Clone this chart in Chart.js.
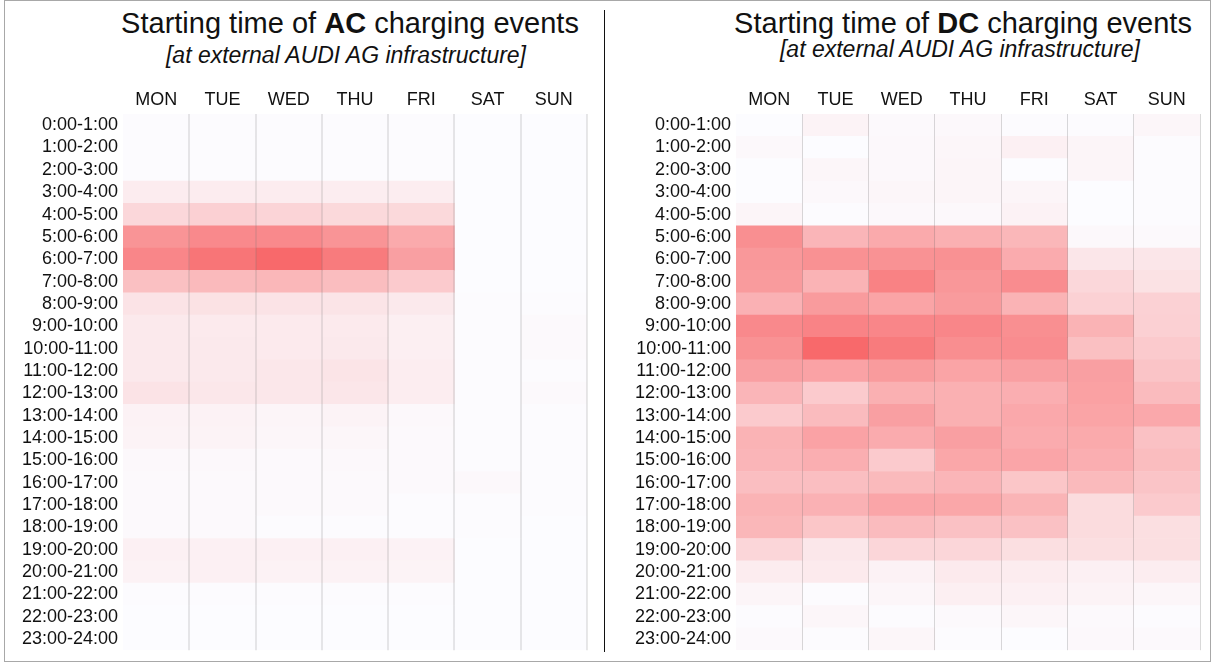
<!DOCTYPE html>
<html>
<head>
<meta charset="utf-8">
<script src="https://cdn.jsdelivr.net/npm/chart.js@4/dist/chart.umd.min.js"></script>
<style>
  html, body { margin: 0; padding: 0; background: #fff; }
  #page { position: relative; width: 1216px; height: 666px; overflow: hidden;
          font-family: 'Liberation Sans', Arial, sans-serif; color: #111; }
  .frame { position: absolute; left: 4px; top: 0; width: 1207px; height: 662px;
           border: 1px solid #a8a8a8; box-sizing: border-box; }
  .divider { position: absolute; left: 604px; top: 10px; width: 1px; height: 642px; background: #111; }
  .title { position: absolute; white-space: nowrap; line-height: 1; font-size: 29px; transform: translateX(-50%); }
  .sub { position: absolute; white-space: nowrap; line-height: 1; font-size: 23px; font-style: italic; transform: translateX(-50%); }
  canvas { position: absolute; top: 0; }
</style>
</head>
<body>
<div id="page">
  <div class="frame"></div>
  <div class="divider"></div>

  <div class="title" style="left:350px; top:9px">Starting time of <b>AC</b> charging events</div>
  <div class="sub" style="left:346px; top:44px">[at external AUDI AG infrastructure]</div>
  <div class="title" style="left:963px; top:9px">Starting time of <b>DC</b> charging events</div>
  <div class="sub" style="left:960px; top:38px">[at external AUDI AG infrastructure]</div>

  <canvas id="acCanvas" width="604" height="666" style="left:0"></canvas>
  <canvas id="dcCanvas" width="608" height="666" style="left:608px"></canvas>
</div>

<script>
// Heatmap of starting times — relative intensity per hour slot (0 = lowest, 100 = highest)
const DAYS  = ['MON', 'TUE', 'WED', 'THU', 'FRI', 'SAT', 'SUN'];
const HOURS = ['0:00-1:00', '1:00-2:00', '2:00-3:00', '3:00-4:00', '4:00-5:00', '5:00-6:00',
               '6:00-7:00', '7:00-8:00', '8:00-9:00', '9:00-10:00', '10:00-11:00', '11:00-12:00',
               '12:00-13:00', '13:00-14:00', '14:00-15:00', '15:00-16:00', '16:00-17:00', '17:00-18:00',
               '18:00-19:00', '19:00-20:00', '20:00-21:00', '21:00-22:00', '22:00-23:00', '23:00-24:00'];

// AC — one array per weekday, 24 hour slots each
const AC_MON = [1, 1, 1, 11, 25, 71, 80, 41, 17, 13, 13, 13, 17, 7, 6, 3, 2, 2, 2, 8, 7, 1, 0, 0];
const AC_TUE = [1, 1, 1, 11, 30, 78, 92, 45, 18, 12, 13, 13, 14, 7, 6, 3, 2, 2, 2, 8, 8, 1, 0, 0];
const AC_WED = [1, 1, 1, 11, 27, 78, 100, 47, 17, 12, 12, 14, 14, 5, 4, 2, 2, 2, 1, 8, 7, 1, 0, 0];
const AC_THU = [1, 1, 1, 10, 24, 71, 88, 43, 16, 12, 13, 16, 15, 6, 4, 3, 2, 2, 1, 8, 7, 1, 0, 0];
const AC_FRI = [1, 1, 1, 10, 24, 56, 63, 34, 13, 9, 9, 10, 10, 3, 2, 2, 2, 1, 1, 7, 6, 1, 0, 0];
const AC_SAT = [0, 0, 0, 0, 0, 0, 0, 0, 1, 1, 1, 1, 1, 1, 1, 1, 3, 1, 1, 0, 0, 0, 0, 0];
const AC_SUN = [0, 0, 0, 0, 0, 0, 0, 0, 1, 2, 2, 1, 2, 1, 1, 1, 1, 1, 0, 0, 0, 0, 0, 0];

// DC
const DC_MON = [0, 3, 0, 0, 5, 74, 68, 66, 51, 78, 72, 63, 48, 34, 50, 48, 42, 50, 47, 26, 11, 5, 1, 2];
const DC_TUE = [6, 0, 4, 3, 1, 48, 73, 50, 66, 82, 100, 61, 34, 44, 61, 53, 42, 51, 37, 14, 12, 1, 4, 1];
const DC_WED = [2, 3, 3, 4, 3, 56, 72, 83, 60, 80, 88, 66, 52, 63, 55, 34, 45, 59, 44, 26, 7, 4, 1, 4];
const DC_THU = [3, 4, 5, 5, 3, 52, 73, 69, 66, 80, 75, 60, 52, 52, 63, 58, 48, 58, 40, 26, 12, 9, 2, 1];
const DC_FRI = [1, 8, 0, 5, 7, 47, 55, 76, 50, 74, 76, 63, 53, 57, 55, 59, 37, 49, 40, 20, 11, 8, 4, 0];
const DC_SAT = [1, 5, 5, 0, 0, 3, 15, 25, 29, 50, 41, 63, 62, 60, 56, 53, 45, 22, 22, 20, 8, 6, 2, 3];
const DC_SUN = [4, 1, 1, 1, 1, 2, 15, 18, 29, 30, 34, 38, 44, 57, 40, 43, 38, 34, 20, 20, 10, 4, 1, 2];

// Escala de cor estilo Excel: branco -> vermelho
const COLOR_MIN = [252, 252, 255];
const COLOR_MAX = [248, 105, 107];

Chart.defaults.font.family = "'Liberation Sans', Arial, sans-serif";
Chart.defaults.color = '#111';

function heatColor(v, lo, hi) {
  const t = hi > lo ? (v - lo) / (hi - lo) : 0;
  const c = COLOR_MIN.map((m, i) => Math.round(m + (COLOR_MAX[i] - m) * t));
  return 'rgb(' + c[0] + ',' + c[1] + ',' + c[2] + ')';
}

function buildHeatmap(canvasId, columns, axisWidth, padRight, gridWidth, gridColor) {
  const all = columns.flat();
  const lo = Math.min(...all);
  const hi = Math.max(...all);

  // one dataset per weekday; each cell is a floating bar spanning [day, day + 1]
  const datasets = columns.map((vals, d) => ({
    label: DAYS[d],
    data: vals.map(() => [d, d + 1]),
    backgroundColor: vals.map(v => heatColor(v, lo, hi)),
    borderWidth: 0,
    barPercentage: 1,
    categoryPercentage: 1,
    grouped: false,
  }));

  return new Chart(document.getElementById(canvasId), {
    type: 'bar',
    data: { labels: HOURS, datasets: datasets },
    options: {
      indexAxis: 'y',
      responsive: false,
      animation: false,
      layout: { padding: { left: 0, right: padRight, top: 0, bottom: 14 } },
      plugins: { legend: { display: false }, tooltip: { enabled: false } },
      scales: {
        x: {
          type: 'linear', position: 'top', min: 0, max: 7,
          afterBuildTicks: s => { s.ticks = DAYS.map((_, i) => ({ value: i + 0.5 })); },
          afterFit: s => { s.height = 114; },
          ticks: { autoSkip: false, maxRotation: 0, padding: 3, font: { size: 18 },
                   callback: (v, i) => DAYS[i] },
          // separadores verticais desenhados por cima das células
          grid: { z: 1, offset: true, drawTicks: false, lineWidth: gridWidth,
                  color: ctx => ctx.index === 0 ? 'rgba(0,0,0,0)' : gridColor },
          border: { display: false },
        },
        y: {
          type: 'category', offset: true,
          afterFit: s => { s.width = axisWidth; },
          ticks: { autoSkip: false, padding: 5, font: { size: 18 } },
          grid: { display: false, drawTicks: false },
          border: { display: false },
        },
      },
    },
  });
}

buildHeatmap('acCanvas', [AC_MON, AC_TUE, AC_WED, AC_THU, AC_FRI, AC_SAT, AC_SUN], 123, 17, 2, 'rgba(110,110,110,0.16)');
buildHeatmap('dcCanvas', [DC_MON, DC_TUE, DC_WED, DC_THU, DC_FRI, DC_SAT, DC_SUN], 128, 16, 1, 'rgba(110,110,110,0.26)');
</script>
</body>
</html>
